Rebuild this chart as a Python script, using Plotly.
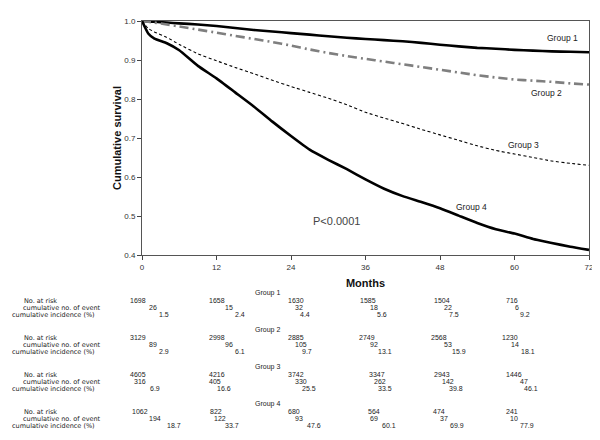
import plotly.graph_objects as go

# ---------------- data ----------------
months = [0, 1, 2, 4, 6, 9, 12, 15, 18, 21, 24, 27, 30, 33, 36, 39, 42, 45, 48, 51, 54, 57, 60, 63, 66, 69, 72]
group1 = [1.0, 0.999, 0.998, 0.996, 0.994, 0.991, 0.987, 0.982, 0.977, 0.973, 0.969, 0.965, 0.961, 0.957,
          0.954, 0.951, 0.948, 0.944, 0.939, 0.935, 0.931, 0.929, 0.926, 0.924, 0.922, 0.921, 0.920]
group2 = [1.0, 0.998, 0.996, 0.991, 0.986, 0.978, 0.970, 0.962, 0.954, 0.946, 0.937, 0.927, 0.918, 0.910,
          0.903, 0.896, 0.889, 0.882, 0.875, 0.868, 0.861, 0.855, 0.850, 0.847, 0.844, 0.840, 0.837]
group3 = [1.0, 0.981, 0.972, 0.958, 0.940, 0.916, 0.898, 0.881, 0.865, 0.848, 0.832, 0.817, 0.802, 0.785,
          0.766, 0.751, 0.737, 0.722, 0.708, 0.694, 0.680, 0.668, 0.659, 0.650, 0.641, 0.635, 0.630]
group4 = [1.0, 0.968, 0.955, 0.943, 0.925, 0.885, 0.853, 0.817, 0.781, 0.742, 0.705, 0.670, 0.644, 0.620,
          0.594, 0.570, 0.551, 0.536, 0.520, 0.501, 0.482, 0.466, 0.455, 0.441, 0.431, 0.421, 0.413]

x_ticks = [0, 12, 24, 36, 48, 60, 72]
y_ticks = [0.4, 0.5, 0.6, 0.7, 0.8, 0.9, 1.0]
y_tick_labels = ["0.4", "0.5", "0.6", "0.7", "0.8", "0.9", "1.0"]

group_names = ["Group 1", "Group 2", "Group 3", "Group 4"]
table_months = [0, 12, 24, 36, 48, 60]
at_risk = [
    [1698, 1658, 1630, 1585, 1504, 716],
    [3129, 2998, 2885, 2749, 2568, 1230],
    [4605, 4216, 3742, 3347, 2943, 1446],
    [1062, 822, 680, 564, 474, 241],
]
cum_events = [
    [26, 15, 32, 18, 22, 6],
    [89, 96, 105, 92, 53, 14],
    [316, 405, 330, 262, 142, 47],
    [194, 122, 93, 69, 37, 10],
]
cum_incidence = [
    ["1.5", "2.4", "4.4", "5.6", "7.5", "9.2"],
    ["2.9", "6.1", "9.7", "13.1", "15.9", "18.1"],
    ["6.9", "16.6", "25.5", "33.5", "39.8", "46.1"],
    ["18.7", "33.7", "47.6", "60.1", "69.9", "77.9"],
]
row_labels = ["No. at risk", "cumulative no. of event", "cumulative incidence (%)"]
p_text = "P<0.0001"

# ---------------- layout helpers (pixels, in window coordinates) ----------------
OFF = 8  # page body margin
W, H = 600 - OFF, 440 - 2 * OFF
PLOT_L, PLOT_R, PLOT_T, PLOT_B = 142, 589, 21, 255
ML, MT = PLOT_L - OFF, PLOT_T - OFF
MB = (OFF + H) - PLOT_B
MR = (OFF + W) - PLOT_R

# left edges (px) of each number for each group / row
risk_left = [[128, 207, 286, 358, 432, 504], [128, 207, 286, 357, 429, 500],
             [128, 207, 286, 367, 432, 504], [130, 208, 286, 366, 431, 504]]
event_left = [[147, 223, 293, 368, 442, 513], [147, 223, 293, 368, 442, 509],
              [132, 207, 293, 372, 440, 518], [147, 212, 293, 368, 438, 508]]
inc_left = [[157, 233, 298, 375, 447, 518], [157, 233, 300, 376, 450, 519],
            [148, 215, 300, 376, 447, 522], [165, 223, 305, 380, 448, 518]]
header_y = [293, 330, 367, 404]
row_dy = [7.5, 14.5, 21.5]
label_left = [22, 21, 10]
header_x = 267

fig = go.Figure()

styles = [
    dict(color="black", width=2.6, dash="solid"),
    dict(color="#7f7f7f", width=2.6, dash="9px,4px,2px,4px"),
    dict(color="black", width=1.1, dash="3px,2.5px"),
    dict(color="black", width=2.6, dash="solid"),
]
for name, vals, st in zip(group_names, [group1, group2, group3, group4], styles):
    fig.add_trace(go.Scatter(x=months, y=vals, mode="lines", name=name,
                             line=dict(color=st["color"], width=st["width"], dash=st["dash"],
                                       shape="spline", smoothing=0.4),
                             showlegend=False, hoverinfo="skip"))

annos = []
label_pos = [(67.8, 0.957), (65.1, 0.816), (61.4, 0.681), (53.1, 0.523)]
for name, (lx, ly) in zip(group_names, label_pos):
    annos.append(dict(x=lx, y=ly, xref="x", yref="y", text=name, showarrow=False,
                      font=dict(family="Arial, Liberation Sans", size=8.5, color="#222")))
annos.append(dict(x=31.4, y=0.487, xref="x", yref="y", text=p_text, showarrow=False,
                  font=dict(family="Arial, Liberation Sans", size=11, color="#444")))

nfont = dict(family="Arial, Liberation Sans", size=7, color="#222")
lfont = dict(family="DejaVu Sans", size=6.5, color="#222")


def add_text(text, px, py, font, anchor="left"):
    annos.append(dict(x=0, y=0, xref="paper", yref="paper", text=text, showarrow=False,
                      xanchor=anchor, yanchor="middle", xshift=px - PLOT_L, yshift=PLOT_B - py,
                      font=font))


for g in range(4):
    add_text(group_names[g], header_x, header_y[g], nfont, anchor="center")
    base = header_y[g]
    for r, lab in enumerate(row_labels):
        add_text(lab, label_left[r], base + row_dy[r], lfont)
    for c in range(len(table_months)):
        add_text(str(at_risk[g][c]), risk_left[g][c], base + row_dy[0], nfont)
        add_text(str(cum_events[g][c]), event_left[g][c], base + row_dy[1], nfont)
        add_text(cum_incidence[g][c], inc_left[g][c], base + row_dy[2], nfont)

fig.update_layout(
    width=W, height=H,
    margin=dict(l=ML, r=MR, t=MT, b=MB, pad=0, autoexpand=False),
    paper_bgcolor="white", plot_bgcolor="white",
    annotations=annos,
    xaxis=dict(range=[0, 72], tickvals=x_ticks, ticks="outside", ticklen=4, tickcolor="#444",
               showline=True, linecolor="#555", linewidth=1, mirror=True, showgrid=False, zeroline=False,
               automargin=False, ticklabeloverflow="allow",
               tickfont=dict(family="Arial, Liberation Sans", size=8, color="#333"),
               title=dict(text="<b>Months</b>", font=dict(family="Arial, Liberation Sans", size=11, color="#111"),
                          standoff=8)),
    yaxis=dict(range=[0.4, 1.0], tickvals=y_ticks, ticktext=y_tick_labels, ticks="outside", ticklen=4,
               tickcolor="#444", showline=True, linecolor="#555", linewidth=1, mirror=True, showgrid=False,
               zeroline=False, automargin=False,
               tickfont=dict(family="Arial, Liberation Sans", size=8, color="#333"),
               title=dict(text="<b>Cumulative survival</b>",
                          font=dict(family="Arial, Liberation Sans", size=11, color="#111"), standoff=0)),
)

fig.write_html("out.html")
